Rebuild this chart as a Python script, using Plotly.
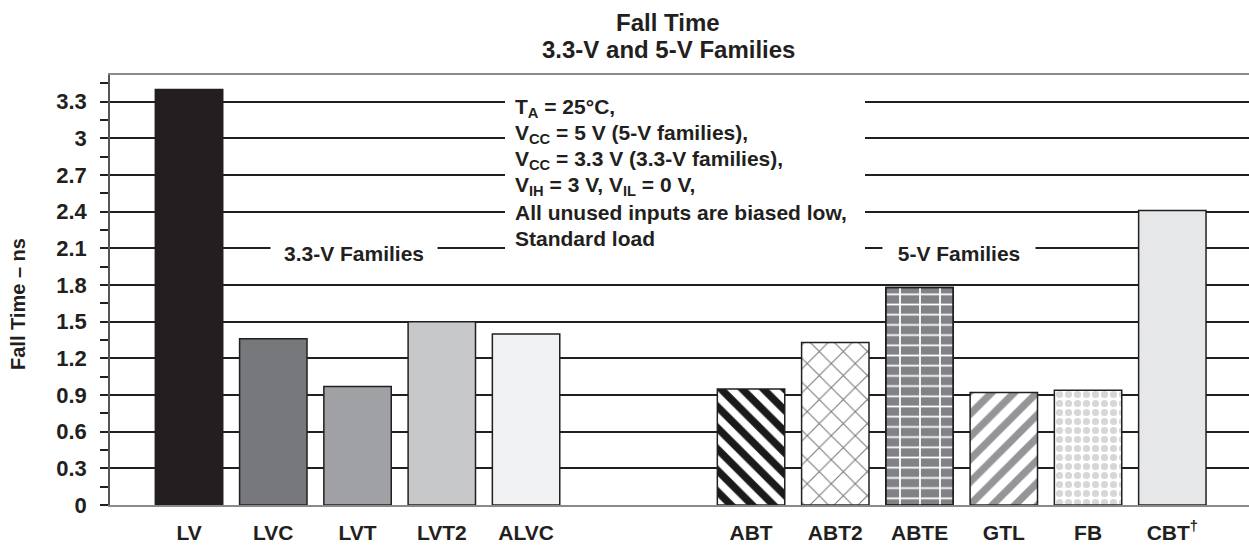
import plotly.graph_objects as go

# ---------------- data ----------------
families_33 = ["LV", "LVC", "LVT", "LVT2", "ALVC"]
fall_33 = [3.40, 1.36, 0.97, 1.50, 1.40]
families_5 = ["ABT", "ABT2", "ABTE", "GTL", "FB", "CBT<sup>†</sup>"]
fall_5 = [0.95, 1.33, 1.78, 0.92, 0.94, 2.41]
y_ticks = [0, 0.3, 0.6, 0.9, 1.2, 1.5, 1.8, 2.1, 2.4, 2.7, 3, 3.3]
y_tick_labels = ["0", "0.3", "0.6", "0.9", "1.2", "1.5", "1.8", "2.1", "2.4", "2.7", "3", "3.3"]
conditions = ["T<sub>A</sub> = 25°C,",
              "V<sub>CC</sub> = 5 V (5-V families),",
              "V<sub>CC</sub> = 3.3 V (3.3-V families),",
              "V<sub>IH</sub> = 3 V, V<sub>IL</sub> = 0 V,",
              "All unused inputs are biased low,",
              "Standard load"]

# ---------------- layout helpers ----------------
W, H = 1249, 550
ML, MR, MT, MB = 110, 0, 75, 45
GAP = 2.67  # slot distance from the last 3.3-V bar to the first 5-V bar
x_33 = list(range(len(families_33)))
x_5 = [len(families_33) - 1 + GAP + i for i in range(len(families_5))]
xs = x_33 + x_5
labels = families_33 + families_5
values = fall_33 + fall_5

def px(xp):
    return (xp - ML) / (W - ML - MR)

def py(yp):
    return (H - MB - yp) / (H - MT - MB)

FONT = "Liberation Sans, Arial, Helvetica, sans-serif"
INK = "#231f20"

# per-bar styles (fill colour, pattern shape, pattern fg, size, solidity)
styles = [
    dict(color="#231f20"),
    dict(color="#77787b"),
    dict(color="#a0a1a4"),
    dict(color="#c7c8ca"),
    dict(color="#f1f2f3"),
    dict(color="#ffffff", shape="\\", fg="#1a1a1a", size=15, sol=0.5),
    dict(color="#ffffff", shape="x", fg="#77787b", size=17, sol=0.12),
    dict(color="#808285", shape="-", fg="#ffffff", size=10.2, sol=0.17),
    dict(color="#ffffff", shape="/", fg="#939598", size=16, sol=0.45),
    dict(color="#ffffff", shape=".", fg="#d6d7d9", size=9, sol=0.5),
    dict(color="#e6e7e8"),
]

fig = go.Figure()
for xv, val, st in zip(xs, values, styles):
    marker = dict(color=st["color"], line=dict(color=INK, width=1.5))
    if "shape" in st:
        marker["pattern"] = dict(shape=st["shape"], fgcolor=st["fg"], bgcolor=st["color"],
                                 size=st["size"], solidity=st["sol"], fillmode="replace",
                                 fgopacity=1)
    fig.add_trace(go.Bar(x=[xv], y=[val], width=0.8, marker=marker,
                         hoverinfo="y", showlegend=False))

# vertical mortar joints for the brick-like ABTE bar
abte_i = families_5.index("ABTE")
fig.add_trace(go.Bar(
    x=[x_5[abte_i]], y=[fall_5[abte_i]], width=0.8,
    marker=dict(color="rgba(0,0,0,0)",
                line=dict(color=INK, width=1.5),
                pattern=dict(shape="|", fgcolor="#ffffff", bgcolor="rgba(0,0,0,0)",
                             size=20, solidity=0.09, fillmode="overlay", fgopacity=1)),
    hoverinfo="skip", showlegend=False,
))

fig.update_layout(
    width=W, height=H,
    margin=dict(l=ML, r=MR, t=MT, b=MB),
    barmode="overlay",
    paper_bgcolor="white", plot_bgcolor="white",
    font=dict(family=FONT, size=21, color=INK, weight="bold"),
    xaxis=dict(range=[-0.938, 12.58], tickmode="array", tickvals=xs, ticktext=labels,
               showgrid=False, zeroline=False, showline=True, linecolor="#8a8a8a",
               linewidth=2, mirror=True, ticks="", ticklabelstandoff=8,
               tickfont=dict(size=21)),
    yaxis=dict(range=[0, 3.519], tickmode="array", tickvals=y_ticks, ticktext=y_tick_labels,
               showgrid=True, gridcolor=INK, gridwidth=1.5, zeroline=False,
               showline=True, linecolor="#555555", linewidth=1.5,
               ticks="outside", ticklen=8, tickwidth=1.5, tickcolor=INK,
               ticklabelstandoff=9, tickfont=dict(size=22),
               minor=dict(dtick=0.15, tick0=0, ticks="outside", ticklen=8,
                          tickwidth=1.5, tickcolor=INK, showgrid=False)),
)

# white box behind the test-condition text (interrupts the grid lines)
fig.add_shape(type="rect", xref="paper", yref="paper", layer="above",
              x0=px(505), x1=px(865), y0=py(92), y1=py(256),
              fillcolor="white", line=dict(width=0))

row_y = [108, 134, 160, 186, 212, 238]
for txt, ry in zip(conditions, row_y):
    fig.add_annotation(xref="paper", yref="paper", showarrow=False, text=txt,
                       x=px(513), y=py(ry), xanchor="left", yanchor="middle",
                       align="left", font=dict(size=21))

annots = [
    dict(text="3.3-V Families", x=px(354), y=py(253), xanchor="center", yanchor="middle",
         width=158, borderpad=4, bgcolor="white", font=dict(size=21)),
    dict(text="5-V Families", x=px(959), y=py(253), xanchor="center", yanchor="middle",
         width=144, borderpad=4, bgcolor="white", font=dict(size=21)),
    dict(text="Fall Time – ns", x=px(18), y=py(304), textangle=-90,
         xanchor="center", yanchor="middle", font=dict(size=20)),
    dict(text="Fall Time", x=px(668), y=py(22), xanchor="center", yanchor="middle",
         font=dict(size=24)),
    dict(text="3.3-V and 5-V Families", x=px(668), y=py(49), xanchor="center",
         yanchor="middle", font=dict(size=24)),
]
for a in annots:
    fig.add_annotation(xref="paper", yref="paper", showarrow=False, **a)

fig.write_html("out.html", config={"displayModeBar": False},
               post_script="document.body.style.margin='0';document.body.style.overflow='hidden';")
